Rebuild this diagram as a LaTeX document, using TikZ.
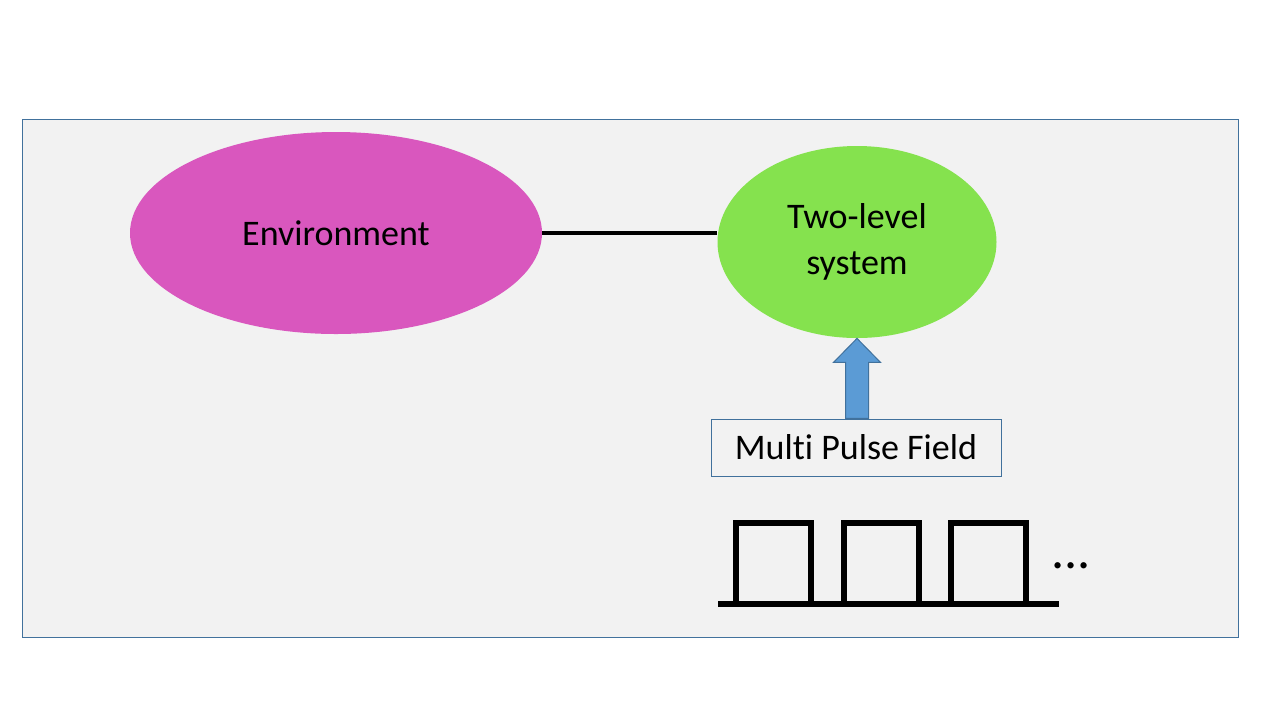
\documentclass[tikz,border=0pt]{standalone}
\usepackage{fontspec}
\setmainfont{Carlito}[Ligatures={NoCommon,NoContextual,NoRare}]
\usetikzlibrary{shapes.geometric}
\definecolor{framegray}{HTML}{F2F2F2}
\definecolor{frameblue}{HTML}{41719C}
\definecolor{envpink}{HTML}{D957BE}
\definecolor{sysgreen}{HTML}{85E24E}
\definecolor{arrowblue}{HTML}{5B9BD5}
\tikzstyle{frame} = [draw=frameblue, fill=framegray, line width=0.5pt]
\tikzstyle{envnode} = [ellipse, fill=envpink, inner sep=0pt, minimum width=206pt, minimum height=101pt, text centered]
\tikzstyle{sysnode} = [ellipse, fill=sysgreen, inner sep=0pt, minimum width=139.5pt, minimum height=96pt, align=center]
\tikzstyle{fieldbox} = [rectangle, draw=frameblue, fill=framegray, line width=0.5pt, minimum width=145pt, minimum height=28.5pt, text centered]
\tikzstyle{coupling} = [draw, line width=2pt]
\tikzstyle{pulsearrow} = [draw=frameblue, fill=arrowblue, line width=0.5pt]
\tikzstyle{pulseline} = [draw, line width=3pt]

\begin{document}
\begin{tikzpicture}[x=0.5pt, y=-0.5pt, font=\fontsize{18}{23}\selectfont]
	\useasboundingbox (0,0) rectangle (1280,720);
	% background frame
	\draw [frame] (22,119) rectangle (1238,637);
	% place nodes
	\node [envnode]  (env)   at (336,233)   {Environment};
	\node [sysnode]  (tls)   at (857,242)   {Two-level\\system};
	\node [fieldbox] (field) at (856,447.5) {Mul\kern0pt ti Pulse Field};
	\node [anchor=base, inner sep=0pt, font=\fontsize{26}{30}\selectfont] (dots) at (1071,568) {...};

	% draw edges
	\path [coupling] (env.east) -- (env.east -| tls.west);
	\path [pulsearrow] (tls.south) -- ++(23.5,24) -- ++(-12,0) -- ++(0,56)
		-- ++(-23,0) -- ++(0,-56) -- ++(-12,0) -- cycle;

	% pulse train
	\draw [pulseline] (718,604) -- (1059,604);
	\foreach \x in {736,844,951}
		\draw [pulseline] (\x,604) |- (\x+75,523) -- (\x+75,604);
\end{tikzpicture}
\end{document}
